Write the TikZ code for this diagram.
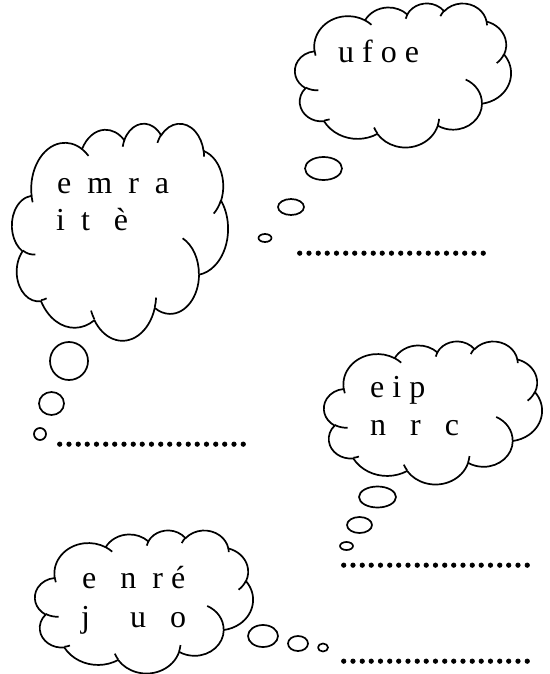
\documentclass[tikz,border=0pt]{standalone}
\usepackage{fontspec}
\setmainfont{Liberation Serif}
\newfontfamily\dotsfont{Liberation Serif Bold}[FakeBold=2.5]
\newcommand\cloudarc[4]{arc[x radius=#1, y radius=#2,
  start angle={atan2(#1*sin(#3),#2*cos(#3))},
  delta angle={mod(atan2(#1*sin(#3+#4),#2*cos(#3+#4))-atan2(#1*sin(#3),#2*cos(#3))+720,360)}]}
\newcommand\cloudpath{(3.9,14.37) \cloudarc{6.753}{9.19}{-190.4875}{123.7805}
  \cloudarc{5.333}{7.267}{-144.1024}{89.9452} \cloudarc{4.365}{5.945}{-145.8079}{99.723}
  \cloudarc{4.857}{6.595}{-130.9861}{117.2417} \cloudarc{5.333}{7.273}{-78.7089}{109.0269}
  \cloudarc{6.775}{9.22}{-46.2673}{130.269} \cloudarc{5.785}{7.867}{0.625}{114.0333}
  \cloudarc{6.752}{9.215}{22.4516}{115.1726} \cloudarc{7.72}{10.543}{66.2426}{75.711}
  \cloudarc{4.36}{5.918}{-274.9421}{146.7356} \cloudarc{4.345}{5.945}{-246.8285}{152.5177} -- cycle}

\begin{document}
\begin{tikzpicture}[x=1pt, y=1pt, yscale=-1,
    puff/.style={line width=1.7, line join=round},
    letters/.style={font=\fontsize{32}{38}\selectfont, anchor=base west, inner sep=0pt},
    blank/.style={font=\fontsize{27.5}{30}\selectfont\dotsfont, anchor=base west, inner sep=0pt}]
  \useasboundingbox (0,0) rectangle (549,674);
  % clouds: left/top/width/height
  \foreach \cx/\cy/\cw/\ch in {295/3/216/144, 12/123/216/217, 324/341/218/143, 35/530/218/143} {
    \begin{scope}[shift={(\cx,\cy)}, xscale=\cw/43.2, yscale=\ch/43.2]
      \draw[puff] \cloudpath;
      \foreach \px/\py/\rx/\ry/\st/\sw in {4.693/26.177/4.345/5.945/86.742/26.4295,
          6.928/34.899/4.36/5.918/73.6105/11.4475, 16.478/39.09/6.752/9.215/137.6242/14.0811,
          28.827/34.751/6.752/9.215/6.4533/15.9984, 34.129/22.954/5.785/7.867/-70.2924/70.9174,
          41.798/15.354/5.333/7.273/30.318/27.7515, 38.324/5.426/4.857/6.595/-13.7443/14.8589,
          29.078/3.952/4.857/6.595/-149.1815/18.1954, 22.141/4.72/4.365/5.945/-163.4943/17.6864,
          14/5.192/6.753/9.19/-66.707/12.3194, 4.127/15.789/6.753/9.19/157.6544/11.8582}
        \draw[puff] (\px,\py) \cloudarc{\rx}{\ry}{\st}{\sw};
    \end{scope}
  }
  % thought bubbles
  \foreach \bx/\by/\rx/\ry in {323.5/168.5/18.5/11.5, 291/207/13/8, 265/238/6.5/4,
      69/361/19/19, 51.5/403.5/12.5/11.5, 40/434/6/6,
      377.5/497/18.5/10.5, 359.5/525/12.5/8, 346.5/546/6.5/4,
      263/636/15/11, 298/643.5/10/7.5, 323/647.5/5/4}
    \draw[puff] (\bx,\by) ellipse[x radius=\rx, y radius=\ry];

  \node[letters] (ufoe) at (338,63) {u f o e};
  \node[letters] (emra) at (57,193) {e\ \ m\ \ r\ \ a};
  \node[letters] (ite) at (56,230) {i\ \ t\ \ \ è};
  \node[letters] (eip) at (370,397) {e i p};
  \node[letters] (nrc) at (370,435) {n\ \ \ r\ \ \ c};
  \node[letters] (enre) at (82,588) {e\ \ \ n\ \ r é};
  \node[letters] (juo) at (81,627) {j\ \ \ \ \ u\ \ \ o};

  % answer lines
  \foreach \dx/\dy [count=\i] in {295/255, 55/446, 339/567, 339/663}
    \node[blank] (answer\i) at (\dx,\dy) {\foreach \k in {1,...,7}{…}};
\end{tikzpicture}
\end{document}
